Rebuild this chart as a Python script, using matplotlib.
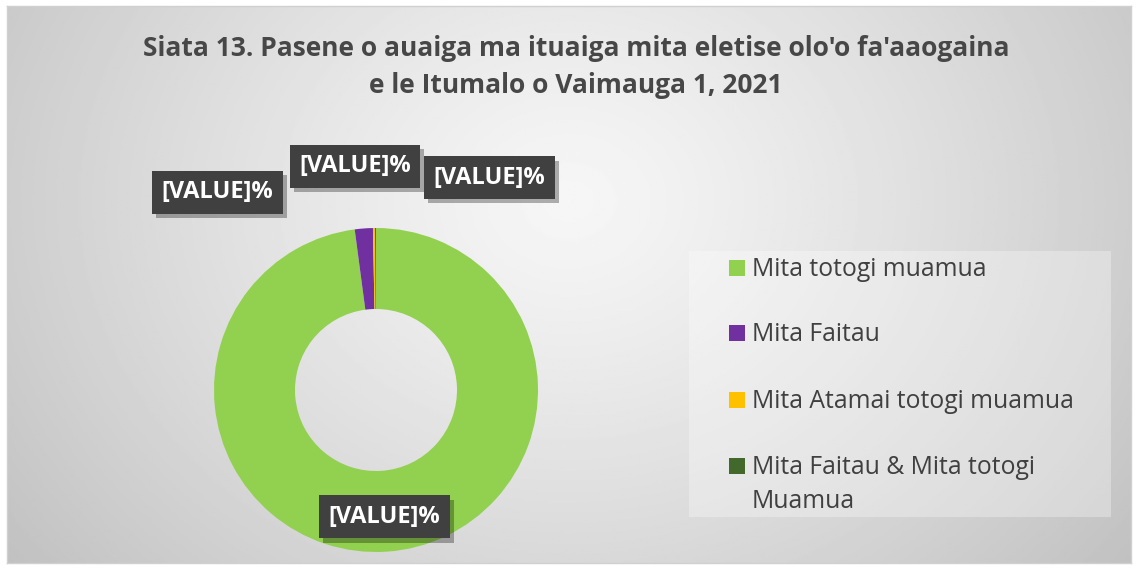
import numpy as np
import matplotlib
matplotlib.use('Agg')
import matplotlib.pyplot as plt
from matplotlib import patheffects
from matplotlib.patches import Rectangle

# Chart data
categories = ['Mita totogi muamua', 'Mita Faitau', 'Mita Atamai totogi muamua',
              'Mita Faitau & Mita totogi\nMuamua']
shares = [97.9, 1.8, 0.2, 0.1]
colors = ['#92d050', '#7030a0', '#ffc000', '#43682b']
title = "Siata 13. Pasene o auaiga ma ituaiga mita eletise olo'o fa'aaogaina\ne le Itumalo o Vaimauga 1, 2021"

W, H = 1138, 569
plt.rcParams['font.family'] = ['Open Sans', 'DejaVu Sans']

fig = plt.figure(figsize=(W / 100, H / 100), dpi=100)
fig.patch.set_facecolor('white')

# Background with a soft radial grey gradient
bg = fig.add_axes([7 / W, 6 / H, (W - 14) / W, (H - 12) / H])
yy, xx = np.mgrid[0:1:300j, 0:1:600j]
dist = np.sqrt(((xx - 0.5) * 1.0) ** 2 + ((yy - 0.35) * 0.6) ** 2)
shade = np.clip(0.965 - 0.36 * dist ** 1.2, 0.74, 0.97)
bg.imshow(shade, cmap='gray', vmin=0, vmax=1, aspect='auto', extent=[0, 1, 0, 1], origin='upper')
bg.set_xticks([])
bg.set_yticks([])
for s in bg.spines.values():
    s.set_color('#d0d0d0')
    s.set_linewidth(1)

# Title
fig.text(576 / W, 1 - 67 / H, title, ha='center', va='center', fontsize=19,
         fontweight='bold', color='#474747', linespacing=1.5)

# Donut
cx, cy, r = 376, 390, 162
ax = fig.add_axes([(cx - r) / W, (H - cy - r) / H, 2 * r / W, 2 * r / H])
wedges, _ = ax.pie(shares, colors=colors, startangle=90, counterclock=False,
                   radius=1, wedgeprops=dict(width=0.5, edgecolor='none'))
ax.set_xlim(-1, 1)
ax.set_ylim(-1, 1)
ax.set_aspect('equal')
ax.axis('off')

shadow = [patheffects.withSimplePatchShadow(offset=(3, -3), shadow_rgbFace='#000000', alpha=0.3)]


def value_label(x, y):
    t = ax.text(x, y, '[VALUE]%', ha='center', va='center', fontsize=17, fontweight='bold',
                color='white', clip_on=False,
                bbox=dict(boxstyle='square,pad=0.4', facecolor='#404040', edgecolor='none'))
    t.get_bbox_patch().set_path_effects(shadow)
    return t


# green label sits on the ring at the wedge's mid angle
w0 = wedges[0]
mid = np.deg2rad((w0.theta1 + w0.theta2) / 2)
value_label(0.785 * np.cos(mid), 0.785 * np.sin(mid))
# small slices: labels pushed out above the ring
for (lx, ly) in [(-0.98, 1.22), (-0.13, 1.38), (0.70, 1.31)]:
    value_label(lx, ly)

# Legend drawn by hand to match the wide spacing
fig.patches.append(Rectangle((689 / W, 1 - 517 / H), (1111 - 689) / W, (517 - 251) / H,
                             transform=fig.transFigure, facecolor='white', alpha=0.3,
                             edgecolor='none'))
legend_y = [268, 333, 400, 466]
for lab, col, ly in zip(categories, colors, legend_y):
    fig.patches.append(Rectangle((729 / W, 1 - (ly + 8) / H), 16 / W, 16 / H,
                                 transform=fig.transFigure, facecolor=col, edgecolor='none'))
    fig.text(752 / W, 1 - (ly - 11) / H, lab, ha='left', va='top', fontsize=17.8,
             color='#404040', linespacing=1.45)

fig.savefig('out.png', dpi=100)
